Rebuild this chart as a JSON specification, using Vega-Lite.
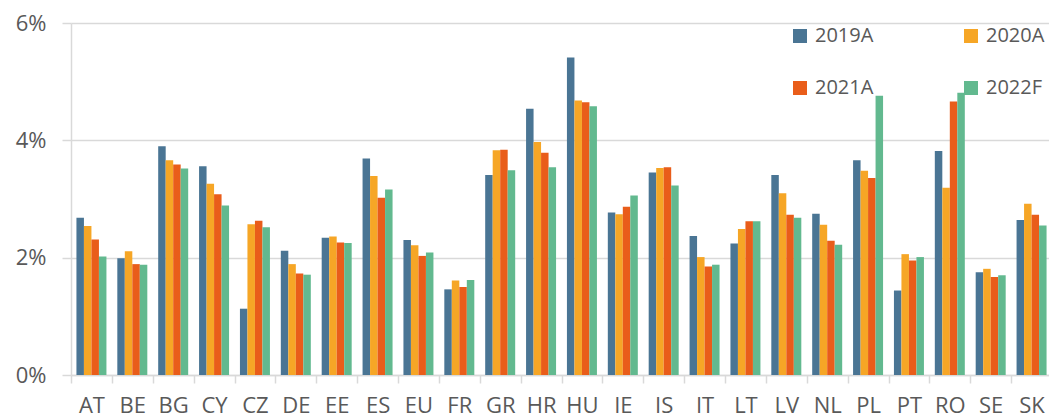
{
  "$schema": "https://vega.github.io/schema/vega-lite/v6.json",
  "autosize": "none",
  "padding": {"left": 71, "top": 23, "right": 0, "bottom": 44},
  "width": 981,
  "height": 352,
  "background": "white",
  "config": {
    "view": {"stroke": null},
    "font": "Open Sans"
  },
  "data": {
    "values": [
      {"c": "AT", "s": "2019A", "v": 2.68}, {"c": "AT", "s": "2020A", "v": 2.54}, {"c": "AT", "s": "2021A", "v": 2.31}, {"c": "AT", "s": "2022F", "v": 2.02},
      {"c": "BE", "s": "2019A", "v": 1.99}, {"c": "BE", "s": "2020A", "v": 2.11}, {"c": "BE", "s": "2021A", "v": 1.89}, {"c": "BE", "s": "2022F", "v": 1.88},
      {"c": "BG", "s": "2019A", "v": 3.90}, {"c": "BG", "s": "2020A", "v": 3.66}, {"c": "BG", "s": "2021A", "v": 3.59}, {"c": "BG", "s": "2022F", "v": 3.52},
      {"c": "CY", "s": "2019A", "v": 3.56}, {"c": "CY", "s": "2020A", "v": 3.26}, {"c": "CY", "s": "2021A", "v": 3.08}, {"c": "CY", "s": "2022F", "v": 2.89},
      {"c": "CZ", "s": "2019A", "v": 1.13}, {"c": "CZ", "s": "2020A", "v": 2.57}, {"c": "CZ", "s": "2021A", "v": 2.63}, {"c": "CZ", "s": "2022F", "v": 2.52},
      {"c": "DE", "s": "2019A", "v": 2.12}, {"c": "DE", "s": "2020A", "v": 1.89}, {"c": "DE", "s": "2021A", "v": 1.73}, {"c": "DE", "s": "2022F", "v": 1.71},
      {"c": "EE", "s": "2019A", "v": 2.34}, {"c": "EE", "s": "2020A", "v": 2.36}, {"c": "EE", "s": "2021A", "v": 2.26}, {"c": "EE", "s": "2022F", "v": 2.25},
      {"c": "ES", "s": "2019A", "v": 3.69}, {"c": "ES", "s": "2020A", "v": 3.39}, {"c": "ES", "s": "2021A", "v": 3.02}, {"c": "ES", "s": "2022F", "v": 3.16},
      {"c": "EU", "s": "2019A", "v": 2.30}, {"c": "EU", "s": "2020A", "v": 2.21}, {"c": "EU", "s": "2021A", "v": 2.03}, {"c": "EU", "s": "2022F", "v": 2.09},
      {"c": "FR", "s": "2019A", "v": 1.46}, {"c": "FR", "s": "2020A", "v": 1.61}, {"c": "FR", "s": "2021A", "v": 1.50}, {"c": "FR", "s": "2022F", "v": 1.62},
      {"c": "GR", "s": "2019A", "v": 3.41}, {"c": "GR", "s": "2020A", "v": 3.83}, {"c": "GR", "s": "2021A", "v": 3.84}, {"c": "GR", "s": "2022F", "v": 3.49},
      {"c": "HR", "s": "2019A", "v": 4.54}, {"c": "HR", "s": "2020A", "v": 3.97}, {"c": "HR", "s": "2021A", "v": 3.79}, {"c": "HR", "s": "2022F", "v": 3.54},
      {"c": "HU", "s": "2019A", "v": 5.41}, {"c": "HU", "s": "2020A", "v": 4.68}, {"c": "HU", "s": "2021A", "v": 4.65}, {"c": "HU", "s": "2022F", "v": 4.58},
      {"c": "IE", "s": "2019A", "v": 2.77}, {"c": "IE", "s": "2020A", "v": 2.74}, {"c": "IE", "s": "2021A", "v": 2.87}, {"c": "IE", "s": "2022F", "v": 3.06},
      {"c": "IS", "s": "2019A", "v": 3.45}, {"c": "IS", "s": "2020A", "v": 3.53}, {"c": "IS", "s": "2021A", "v": 3.54}, {"c": "IS", "s": "2022F", "v": 3.23},
      {"c": "IT", "s": "2019A", "v": 2.37}, {"c": "IT", "s": "2020A", "v": 2.01}, {"c": "IT", "s": "2021A", "v": 1.85}, {"c": "IT", "s": "2022F", "v": 1.88},
      {"c": "LT", "s": "2019A", "v": 2.24}, {"c": "LT", "s": "2020A", "v": 2.49}, {"c": "LT", "s": "2021A", "v": 2.62}, {"c": "LT", "s": "2022F", "v": 2.62},
      {"c": "LV", "s": "2019A", "v": 3.41}, {"c": "LV", "s": "2020A", "v": 3.10}, {"c": "LV", "s": "2021A", "v": 2.73}, {"c": "LV", "s": "2022F", "v": 2.68},
      {"c": "NL", "s": "2019A", "v": 2.75}, {"c": "NL", "s": "2020A", "v": 2.56}, {"c": "NL", "s": "2021A", "v": 2.29}, {"c": "NL", "s": "2022F", "v": 2.22},
      {"c": "PL", "s": "2019A", "v": 3.66}, {"c": "PL", "s": "2020A", "v": 3.48}, {"c": "PL", "s": "2021A", "v": 3.36}, {"c": "PL", "s": "2022F", "v": 4.76},
      {"c": "PT", "s": "2019A", "v": 1.44}, {"c": "PT", "s": "2020A", "v": 2.06}, {"c": "PT", "s": "2021A", "v": 1.95}, {"c": "PT", "s": "2022F", "v": 2.01},
      {"c": "RO", "s": "2019A", "v": 3.82}, {"c": "RO", "s": "2020A", "v": 3.19}, {"c": "RO", "s": "2021A", "v": 4.66}, {"c": "RO", "s": "2022F", "v": 4.81},
      {"c": "SE", "s": "2019A", "v": 1.75}, {"c": "SE", "s": "2020A", "v": 1.81}, {"c": "SE", "s": "2021A", "v": 1.67}, {"c": "SE", "s": "2022F", "v": 1.70},
      {"c": "SK", "s": "2019A", "v": 2.64}, {"c": "SK", "s": "2020A", "v": 2.92}, {"c": "SK", "s": "2021A", "v": 2.73}, {"c": "SK", "s": "2022F", "v": 2.55}
    ]
  },
  "mark": {"type": "bar"},
  "encoding": {
    "x": {
      "field": "c", "type": "nominal", "sort": null,
      "scale": {"paddingInner": 0, "paddingOuter": 0},
      "axis": {
        "title": null, "labelAngle": 0, "labelFontSize": 22, "labelColor": "#595959",
        "labelPadding": 12, "tickBand": "extent", "tickSize": 8, "tickColor": "#d9d9d9", "tickWidth": 1.5,
        "domainColor": "#d9d9d9", "domainWidth": 1.5, "grid": false, "labelFont": "Open Sans"
      }
    },
    "xOffset": {
      "field": "s", "type": "nominal",
      "scale": {"paddingInner": 0, "paddingOuter": 0.725}
    },
    "y": {
      "field": "v", "type": "quantitative",
      "scale": {"domain": [0, 6], "nice": false},
      "axis": {
        "title": null, "values": [0, 2, 4, 6], "labelExpr": "datum.value + '%'",
        "labelFontSize": 22, "labelColor": "#595959", "labelPadding": 16,
        "tickSize": 9, "tickColor": "#d9d9d9", "tickWidth": 1.5,
        "grid": true, "gridColor": "#d9d9d9", "gridWidth": 1.5,
        "domain": true, "domainColor": "#d9d9d9", "domainWidth": 1.5, "labelFont": "Open Sans"
      }
    },
    "color": {
      "field": "s", "type": "nominal",
      "scale": {"domain": ["2019A", "2020A", "2021A", "2022F"], "range": ["#4a7594", "#f6a626", "#e95d1a", "#62b98f"]},
      "legend": {
        "title": null, "orient": "none", "legendX": 719, "legendY": 3, "columns": 2,
        "direction": "horizontal",
        "symbolType": "square", "symbolSize": 196, "symbolStrokeWidth": 0, "symbolOpacity": 1,
        "labelFontSize": 20, "labelColor": "#595959", "labelOffset": 5, "labelFont": "Open Sans",
        "columnPadding": 87, "rowPadding": 32, "padding": 0
      }
    }
  }
}
